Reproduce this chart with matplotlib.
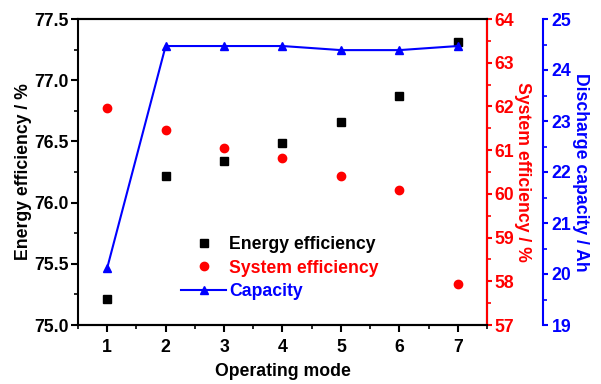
import matplotlib.pyplot as plt
from matplotlib.ticker import MultipleLocator

plt.rcParams['font.family'] = ['Liberation Sans', 'DejaVu Sans']
plt.rcParams['font.weight'] = 'bold'

# Data
modes = [1, 2, 3, 4, 5, 6, 7]
energy_eff = [75.21, 76.22, 76.34, 76.49, 76.66, 76.87, 77.31]
system_eff = [61.96, 61.46, 61.05, 60.82, 60.41, 60.09, 57.94]
capacity = [20.12, 24.47, 24.47, 24.47, 24.39, 24.39, 24.47]

fig = plt.figure(figsize=(6.01, 3.84), dpi=100)
ax = fig.add_axes([78 / 601, 1 - 325 / 384, (487 - 78) / 601, (325 - 19) / 384])
ax2 = ax.twinx()
ax3 = ax.twinx()
ax3.spines['right'].set_position(('outward', 40))

fs = 12.7
h1, = ax.plot(modes, energy_eff, 's', color='black', markersize=5.5, label='Energy efficiency')
h2, = ax2.plot(modes, system_eff, 'o', color='red', markersize=6, label='System efficiency')
h3, = ax3.plot(modes, capacity, '-^', color='blue', markersize=6, linewidth=1.5, label='Capacity')

ax.set_xlim(0.5, 7.5)
ax.set_ylim(75.0, 77.5)
ax2.set_ylim(57, 64)
ax3.set_ylim(19, 25)

ax.xaxis.set_major_locator(MultipleLocator(1))
ax.xaxis.set_minor_locator(MultipleLocator(0.5))
ax.yaxis.set_major_locator(MultipleLocator(0.5))
ax.yaxis.set_minor_locator(MultipleLocator(0.25))
ax.yaxis.set_major_formatter('{x:.1f}')
ax2.yaxis.set_major_locator(MultipleLocator(1))
ax2.yaxis.set_minor_locator(MultipleLocator(0.5))
ax3.yaxis.set_major_locator(MultipleLocator(1))
ax3.yaxis.set_minor_locator(MultipleLocator(0.5))

for a in (ax, ax2, ax3):
    for s in a.spines.values():
        s.set_linewidth(1.5)
ax.tick_params(axis='both', which='major', labelsize=fs, width=1.5, length=5, direction='out')
ax.tick_params(axis='both', which='minor', width=1.2, length=3, direction='out')
ax.tick_params(axis='x', which='major', pad=5)
ax.tick_params(axis='y', which='major', pad=1.5)

ax2.spines['right'].set_color('red')
ax2.tick_params(axis='y', which='both', colors='red', width=1.5, labelsize=fs, pad=2)
ax2.tick_params(axis='y', which='minor', length=3, width=1.2)
ax3.spines['right'].set_color('blue')
ax3.tick_params(axis='y', which='both', colors='blue', width=1.5, labelsize=fs, pad=3)
ax3.tick_params(axis='y', which='minor', length=3, width=1.2)
ax2.spines['left'].set_visible(False)
ax3.spines['left'].set_visible(False)
ax3.spines['top'].set_visible(False)
ax3.spines['bottom'].set_visible(False)

ax.set_xlabel('Operating mode', fontsize=fs, fontweight='bold', labelpad=5)
ax.set_ylabel('Energy efficiency / %', fontsize=fs, fontweight='bold', labelpad=2)
ax2.set_ylabel('System efficiency / %', fontsize=fs, fontweight='bold', color='red',
               rotation=270, labelpad=12)
ax3.set_ylabel('Discharge capacity / Ah', fontsize=fs, fontweight='bold', color='blue',
               rotation=270, labelpad=13)

leg = ax.legend(handles=[h1, h2, h3], loc='center', bbox_to_anchor=(0.494, 0.186),
                frameon=False, prop={'size': fs, 'weight': 'bold'},
                handlelength=2.5, handletextpad=0.2, labelspacing=0.35)
for txt, c in zip(leg.get_texts(), ['black', 'red', 'blue']):
    txt.set_color(c)

plt.savefig('out.png', dpi=100)
